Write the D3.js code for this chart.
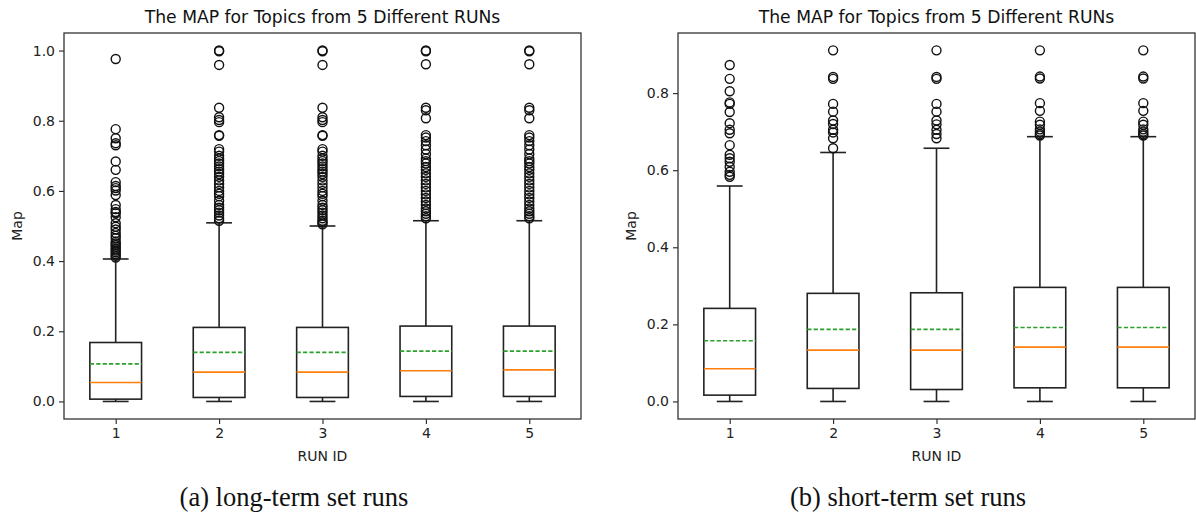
<!DOCTYPE html>
<html>
<head>
<meta charset="utf-8">
<script src="https://cdn.jsdelivr.net/npm/d3@7"></script>
<style>
  body { margin: 0; background: #fff; }
  svg { display: block; }
</style>
</head>
<body>
<svg id="graph"></svg>
<script>
// Les données
const runs = [1, 2, 3, 4, 5];
const yTicksLong = [0.0, 0.2, 0.4, 0.6, 0.8, 1.0];
const yTicksShort = [0.0, 0.2, 0.4, 0.6, 0.8];

// (a) long-term
const longQ1 = [0.0066, 0.0114, 0.0114, 0.0143, 0.0143];
const longMediane = [0.054, 0.0836, 0.0836, 0.0873, 0.090];
const longQ3 = [0.168, 0.211, 0.211, 0.2148, 0.2148];
const longMoyenne = [0.107, 0.1398, 0.1398, 0.1435, 0.1435];
const longMin = [0, 0, 0, 0, 0];
const longMax = [0.406, 0.509, 0.500, 0.515, 0.515];
const longOutliers = [
  [0.976, 0.776, 0.750, 0.736, 0.730, 0.684, 0.660, 0.625, 0.614, 0.608, 0.601, 0.588, 0.560, 0.548,
   0.540, 0.536, 0.525, 0.508, 0.498, 0.490, 0.480, 0.472, 0.465, 0.455, 0.450, 0.445, 0.440, 0.435,
   0.430, 0.425, 0.420, 0.415, 0.410],
  [1.0, 0.998, 0.959, 0.837, 0.810, 0.802, 0.796, 0.759, 0.757, 0.719, 0.712, 0.700, 0.692, 0.685,
   0.678, 0.670, 0.662, 0.655, 0.648, 0.640, 0.630, 0.620, 0.610, 0.600, 0.592, 0.585, 0.572, 0.560,
   0.552, 0.545, 0.538, 0.530, 0.522, 0.515],
  [1.0, 0.998, 0.959, 0.837, 0.810, 0.802, 0.796, 0.759, 0.757, 0.719, 0.712, 0.700, 0.692, 0.685,
   0.678, 0.670, 0.662, 0.655, 0.648, 0.640, 0.630, 0.620, 0.610, 0.600, 0.592, 0.585, 0.572, 0.560,
   0.552, 0.545, 0.538, 0.530, 0.522, 0.515, 0.510, 0.505],
  [1.0, 0.998, 0.961, 0.837, 0.830, 0.807, 0.759, 0.752, 0.742, 0.730, 0.718, 0.705, 0.692, 0.685,
   0.678, 0.668, 0.660, 0.650, 0.640, 0.630, 0.620, 0.610, 0.600, 0.590, 0.580, 0.570, 0.560, 0.550,
   0.542, 0.535, 0.528, 0.522],
  [1.0, 0.998, 0.961, 0.837, 0.830, 0.807, 0.759, 0.752, 0.742, 0.730, 0.718, 0.705, 0.692, 0.685,
   0.678, 0.668, 0.660, 0.650, 0.640, 0.630, 0.620, 0.610, 0.600, 0.590, 0.580, 0.570, 0.560, 0.550,
   0.542, 0.535, 0.528, 0.522]
];

// (b) short-term
const shortQ1 = [0.0164, 0.0338, 0.031, 0.0354, 0.0354];
const shortMediane = [0.0848, 0.1333, 0.1333, 0.141, 0.141];
const shortQ3 = [0.2415, 0.2805, 0.282, 0.296, 0.296];
const shortMoyenne = [0.1575, 0.187, 0.187, 0.192, 0.192];
const shortMin = [0, 0, 0, 0, 0];
const shortMax = [0.559, 0.646, 0.657, 0.687, 0.687];
const shortOutliers = [
  [0.873, 0.837, 0.805, 0.776, 0.772, 0.751, 0.722, 0.705, 0.696, 0.665, 0.640, 0.631, 0.622, 0.609,
   0.596, 0.588, 0.583],
  [0.911, 0.842, 0.837, 0.772, 0.752, 0.729, 0.720, 0.705, 0.698, 0.683, 0.657],
  [0.911, 0.842, 0.837, 0.772, 0.752, 0.729, 0.719, 0.705, 0.694, 0.683],
  [0.911, 0.843, 0.838, 0.774, 0.754, 0.726, 0.718, 0.706, 0.700, 0.694, 0.690],
  [0.911, 0.843, 0.838, 0.774, 0.754, 0.726, 0.718, 0.706, 0.700, 0.694, 0.690]
];

const titre = "The MAP for Topics from 5 Different RUNs";

const largeur = 1196;
const hauteur = 521;
const police = "'DejaVu Sans', sans-serif";

const svg = d3.select('#graph')
  .attr("width", largeur)
  .attr("height", hauteur);

svg.append("rect").attr("width", largeur).attr("height", hauteur).attr("fill", "#fff");

// Fonction pour dessiner un panneau de boîtes
function dessinerPanneau(p) {
  const g = svg.append("g");

  const x = d3.scaleLinear().domain([0.5, 5.5]).range([p.gauche, p.droite]);
  const y = d3.scaleLinear().domain(p.yDomaine).range([p.bas, p.haut]);
  const demi = (x(1.25) - x(1));
  const cap = demi / 2;

  // Axes
  g.append("g")
    .attr("transform", `translate(0,${p.bas})`)
    .call(d3.axisBottom(x).tickValues(runs).tickSize(5).tickPadding(4).tickFormat(d3.format("d")))
    .call(a => a.select(".domain").remove());
  g.append("g")
    .attr("transform", `translate(${p.gauche},0)`)
    .call(d3.axisLeft(y).tickValues(p.ticks).tickSize(5).tickPadding(4).tickFormat(d3.format(".1f")))
    .call(a => a.select(".domain").remove());

  g.selectAll(".tick text")
    .attr("font-family", police)
    .attr("font-size", 14)
    .attr("fill", "#222");
  g.selectAll(".tick line").attr("stroke", "#222").attr("stroke-width", 1.1);

  // Cadre
  g.append("rect")
    .attr("x", p.gauche).attr("y", p.haut)
    .attr("width", p.droite - p.gauche).attr("height", p.bas - p.haut)
    .attr("fill", "none").attr("stroke", "#333").attr("stroke-width", 1.3);

  // Moustaches
  runs.forEach((r, i) => {
    const cx = x(r);
    const lignes = [
      [cx, y(p.q3[i]), cx, y(p.max[i])],
      [cx, y(p.q1[i]), cx, y(p.min[i])],
      [cx - cap, y(p.max[i]), cx + cap, y(p.max[i])],
      [cx - cap, y(p.min[i]), cx + cap, y(p.min[i])]
    ];
    lignes.forEach(l => {
      g.append("line")
        .attr("x1", l[0]).attr("y1", l[1]).attr("x2", l[2]).attr("y2", l[3])
        .attr("stroke", "#222").attr("stroke-width", 1.6);
    });

    // Boîte
    g.append("rect")
      .attr("x", cx - demi).attr("y", y(p.q3[i]))
      .attr("width", 2 * demi).attr("height", y(p.q1[i]) - y(p.q3[i]))
      .attr("fill", "none").attr("stroke", "#222").attr("stroke-width", 1.6);

    // Médiane
    g.append("line")
      .attr("x1", cx - demi).attr("x2", cx + demi)
      .attr("y1", y(p.mediane[i])).attr("y2", y(p.mediane[i]))
      .attr("stroke", "#ff7f0e").attr("stroke-width", 1.6);

    // Moyenne (pointillés)
    g.append("line")
      .attr("x1", cx - demi).attr("x2", cx + demi)
      .attr("y1", y(p.moyenne[i])).attr("y2", y(p.moyenne[i]))
      .attr("stroke", "#2ca02c").attr("stroke-width", 1.6)
      .attr("stroke-dasharray", "4.2,2.2");

    // Points aberrants
    g.selectAll(null)
      .data(p.outliers[i])
      .enter().append("circle")
      .attr("cx", cx)
      .attr("cy", d => y(d))
      .attr("r", 4.5)
      .attr("fill", "none")
      .attr("stroke", "#111")
      .attr("stroke-width", 1.4);
  });

  const centre = (p.gauche + p.droite) / 2;

  g.append("text")
    .attr("x", centre).attr("y", 23)
    .attr("text-anchor", "middle")
    .attr("font-family", police).attr("font-size", 17.2).attr("fill", "#111")
    .text(titre);

  g.append("text")
    .attr("x", centre).attr("y", 461)
    .attr("text-anchor", "middle")
    .attr("font-family", police).attr("font-size", 14).attr("fill", "#222")
    .text("RUN ID");

  g.append("text")
    .attr("transform", `translate(${p.xLabelY},${(p.haut + p.bas) / 2}) rotate(-90)`)
    .attr("text-anchor", "middle")
    .attr("font-family", police).attr("font-size", 14).attr("fill", "#222")
    .text("Map");

  g.append("text")
    .attr("x", p.xLegende).attr("y", 506)
    .attr("text-anchor", "middle")
    .attr("font-family", "'Liberation Serif', 'DejaVu Serif', serif")
    .attr("font-size", 26.5).attr("fill", "#111")
    .text(p.legende);
}

dessinerPanneau({
  gauche: 64, droite: 581, haut: 33, bas: 419,
  yDomaine: [-0.05, 1.05], ticks: yTicksLong,
  q1: longQ1, mediane: longMediane, q3: longQ3, moyenne: longMoyenne,
  min: longMin, max: longMax, outliers: longOutliers,
  xLabelY: 22, xLegende: 294, legende: "(a) long-term set runs"
});

dessinerPanneau({
  gauche: 678, droite: 1195, haut: 33, bas: 419,
  yDomaine: [-0.0455, 0.956], ticks: yTicksShort,
  q1: shortQ1, mediane: shortMediane, q3: shortQ3, moyenne: shortMoyenne,
  min: shortMin, max: shortMax, outliers: shortOutliers,
  xLabelY: 636, xLegende: 908, legende: "(b) short-term set runs"
});
</script>
</body>
</html>
